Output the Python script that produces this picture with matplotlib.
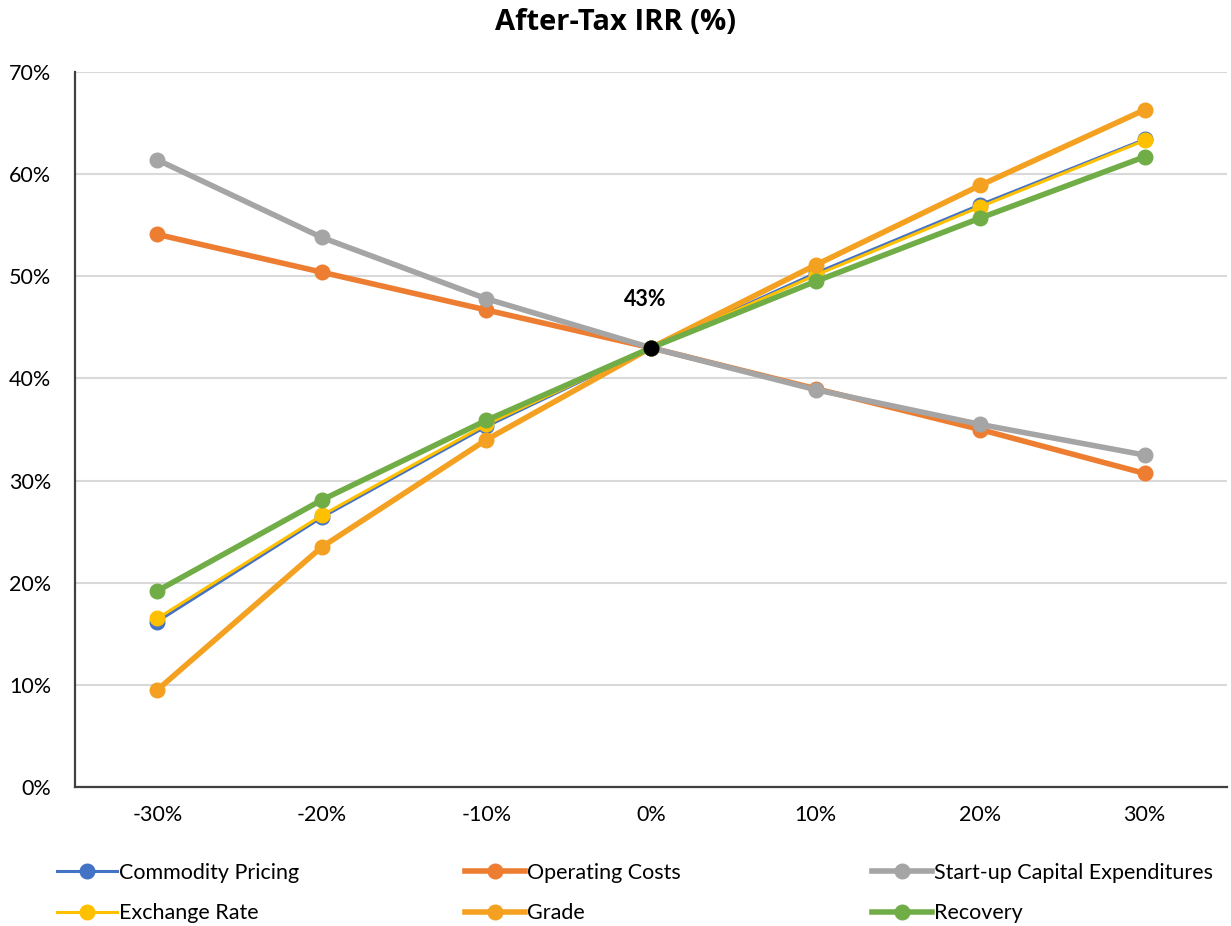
#!/usr/bin/env python3
import matplotlib
matplotlib.use("Agg")
import matplotlib.pyplot as plt

plt.rcParams["font.family"] = ["Lato", "DejaVu Sans"]

categories = ["-30%", "-20%", "-10%", "0%", "10%", "20%", "30%"]
base_irr = 43

commodity_pricing = [16.2, 26.4, 35.3, 43.0, 50.3, 57.0, 63.4]
operating_costs = [54.1, 50.4, 46.7, 43.0, 39.0, 35.0, 30.7]
startup_capex = [61.4, 53.8, 47.8, 43.0, 38.9, 35.5, 32.5]
exchange_rate = [16.5, 26.6, 35.5, 43.0, 50.1, 56.8, 63.3]
grade = [9.5, 23.5, 34.0, 43.0, 51.1, 58.9, 66.3]
recovery = [19.2, 28.1, 35.9, 43.0, 49.5, 55.7, 61.7]

series = [
    ("Commodity Pricing", commodity_pricing, "#4472C4", 2.2),
    ("Operating Costs", operating_costs, "#ED7D31", 4.0),
    ("Start-up Capital Expenditures", startup_capex, "#A5A5A5", 4.0),
    ("Exchange Rate", exchange_rate, "#FFC000", 2.2),
    ("Grade", grade, "#F4A020", 4.0),
    ("Recovery", recovery, "#70AD47", 4.0),
]

fig = plt.figure(figsize=(12.31, 9.26), dpi=100)
ax = fig.add_axes([75 / 1231, 1 - 787 / 926, 1152 / 1231, 715 / 926])

x = list(range(len(categories)))
handles = []
for label, vals, color, lw in series:
    line, = ax.plot(x, vals, color=color, lw=lw, marker="o", markersize=10.5, label=label, zorder=3)
    handles.append(line)

ax.plot([3], [base_irr], "o", color="black", markersize=10.5, zorder=5)
ax.annotate(f"{base_irr}%", (3, base_irr), xytext=(-4, 35), textcoords="offset points",
            ha="center", va="center", fontsize=15.5, fontweight="bold")

ax.set_xlim(-0.5, 6.5)
ax.set_ylim(0, 70)
ax.set_xticks(x)
ax.set_xticklabels(categories)
ax.set_yticks(range(0, 71, 10))
ax.set_yticklabels([f"{v}%" for v in range(0, 71, 10)])
ax.tick_params(axis="both", length=0, labelsize=15.5, colors="black")
ax.tick_params(axis="x", pad=13)
ax.tick_params(axis="y", pad=17)
ax.yaxis.grid(True, color="#D9D9D9", lw=1.5)
ax.set_axisbelow(True)
for side in ("top", "right"):
    ax.spines[side].set_visible(False)
for side in ("left", "bottom"):
    ax.spines[side].set_color("#404040")
    ax.spines[side].set_linewidth(1.6)

fig.text(0.5, 1 - 22 / 926, "After-Tax IRR (%)", ha="center", va="center",
         fontsize=21, fontweight="bold", family="Open Sans")

# Excel lays the legend out row by row in three equal-width columns
col_x = [57 / 1231, 465 / 1231, 872 / 1231]
for i, cx in enumerate(col_x):
    fig.legend([handles[i], handles[i + 3]], [series[i][0], series[i + 3][0]],
               loc="upper left", bbox_to_anchor=(cx, (926 - 863) / 926),
               frameon=False, fontsize=15.5, handlelength=2.8, handletextpad=0.1,
               labelspacing=0.95, borderaxespad=0.0, borderpad=0.0)

fig.savefig("out.png", dpi=100)
